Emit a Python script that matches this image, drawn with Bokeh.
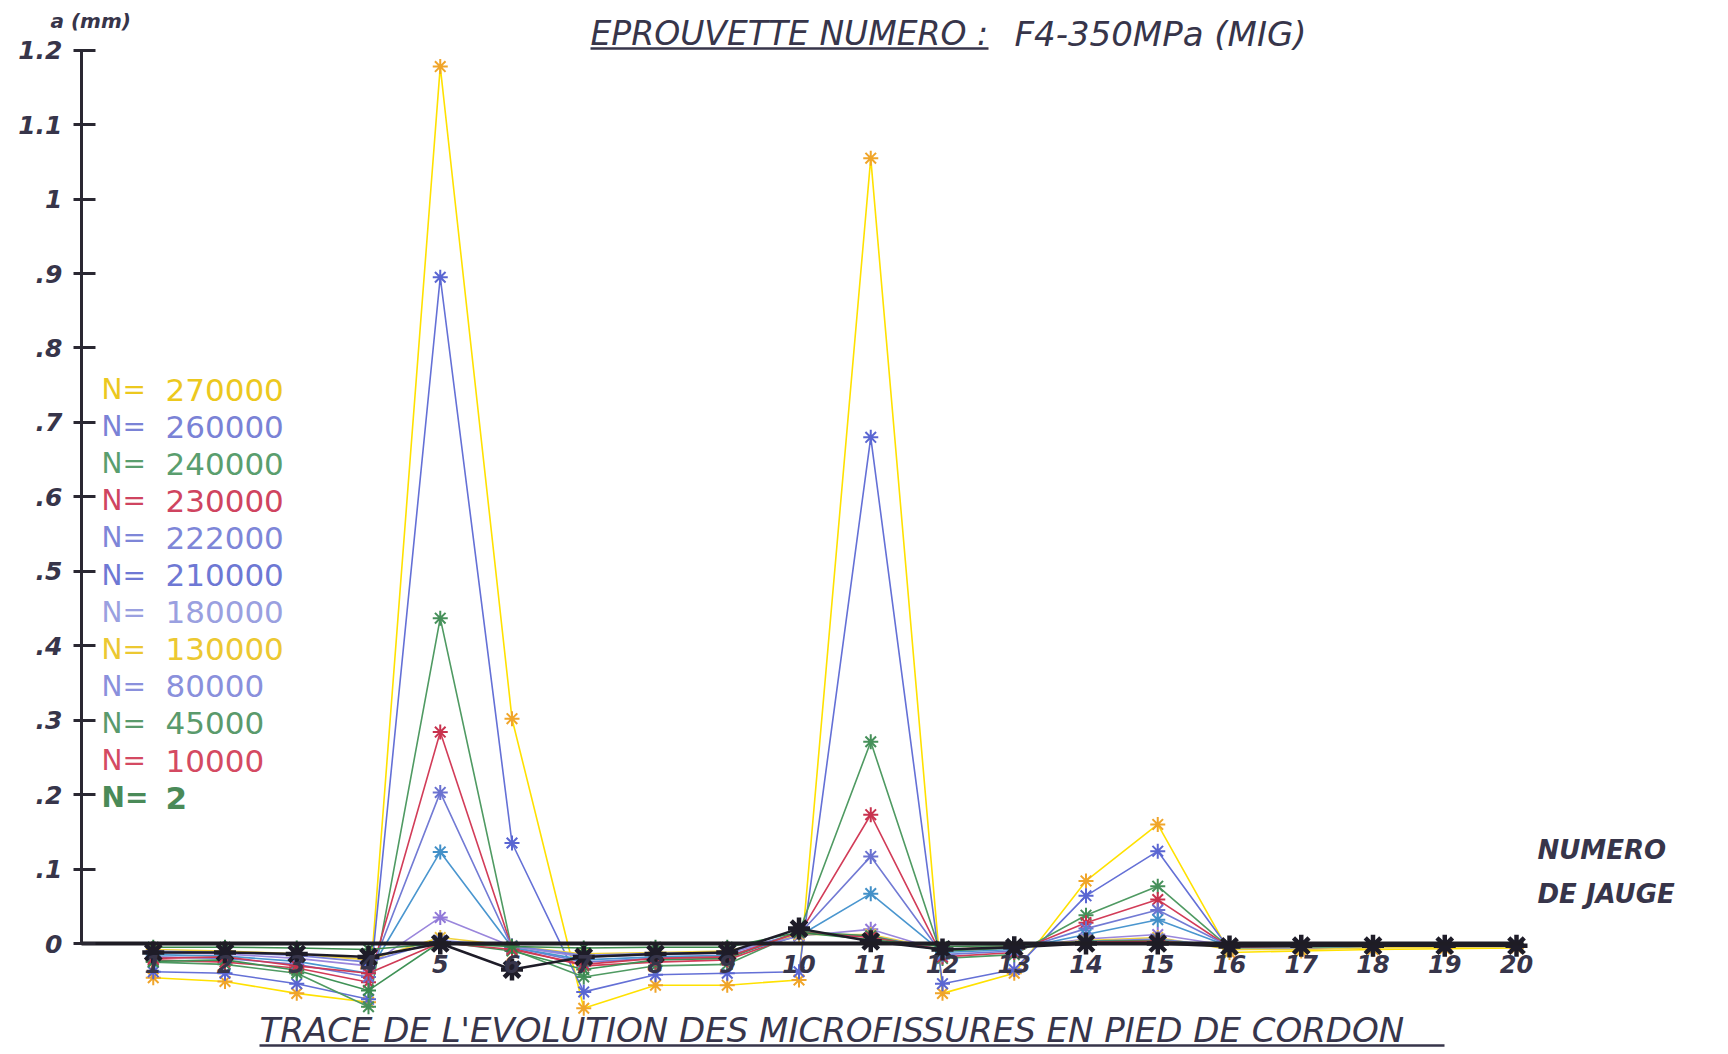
from bokeh.plotting import figure
from bokeh.models import FixedTicker, CustomJSTickFormatter
from bokeh.core.properties import value
from bokeh.embed import file_html
from bokeh.resources import INLINE

# ---------------- data ----------------
gauges = list(range(1, 21))
cycles = ["270000", "260000", "240000", "230000", "222000", "210000",
          "180000", "130000", "80000", "45000", "10000", "2"]
line_colors = ["#ffe100", "#6470d6", "#4f9a62", "#d23c58", "#727ad4", "#4a96cf",
               "#9a86dc", "#f0d23c", "#7c84dc", "#3f9256", "#cf3a55", "#3a8a4c"]
marker_colors = ["#f0a52a", "#5a66d2", "#46905a", "#c8324e", "#6a72d0", "#4390c8",
                 "#9078d8", "#eec040", "#7078d6", "#3a8a50", "#c8324e", "#347e46"]
text_colors = ["#ecc81e", "#7a82d6", "#5a9e6e", "#cf4460", "#7e86d8", "#6e78d4",
               "#9aa0e0", "#ecc832", "#8a90dc", "#5a9a6c", "#d44a62", "#4a8a58"]

a_270000 = [-0.046, -0.051, -0.067, -0.079, 1.178, 0.302, -0.087, -0.056, -0.056, -0.049,
            1.055, -0.067, -0.040, 0.084, 0.160, -0.012, -0.010, -0.008, -0.007, -0.006]
a_260000 = [-0.038, -0.040, -0.054, -0.075, 0.895, 0.135, -0.065, -0.042, -0.040, -0.038,
            0.680, -0.054, -0.035, 0.064, 0.124, -0.008, -0.007, -0.005, -0.004, -0.004]
a_240000 = [-0.025, -0.028, -0.040, -0.085, 0.437, -0.008, -0.045, -0.030, -0.028, 0.015,
            0.271, -0.020, -0.015, 0.038, 0.077, -0.006, -0.005, -0.004, -0.003, -0.003]
a_230000 = [-0.022, -0.025, -0.033, -0.052, 0.284, -0.006, -0.030, -0.025, -0.022, 0.012,
            0.173, -0.018, -0.012, 0.028, 0.059, -0.005, -0.004, -0.003, -0.003, -0.003]
a_222000 = [-0.018, -0.020, -0.028, -0.045, 0.203, -0.005, -0.025, -0.020, -0.018, 0.012,
            0.117, -0.015, -0.010, 0.020, 0.045, -0.004, -0.004, -0.003, -0.002, -0.002]
a_210000 = [-0.015, -0.017, -0.024, -0.040, 0.123, -0.005, -0.022, -0.018, -0.016, 0.010,
            0.067, -0.012, -0.008, 0.012, 0.032, -0.004, -0.003, -0.002, -0.002, -0.002]
a_180000 = [-0.012, -0.014, -0.020, -0.030, 0.035, -0.004, -0.018, -0.015, -0.013, 0.010,
            0.019, -0.010, -0.006, 0.006, 0.012, -0.003, -0.003, -0.002, -0.002, -0.002]
a_130000 = [-0.008, -0.010, -0.014, -0.022, 0.008, -0.003, -0.014, -0.012, -0.010, 0.012,
            0.012, -0.008, -0.004, 0.004, 0.008, -0.008, -0.008, -0.006, -0.005, -0.004]
a_80000 = [-0.010, -0.012, -0.016, -0.025, 0.004, -0.003, -0.016, -0.013, -0.012, 0.014,
           0.010, -0.008, -0.005, 0.003, 0.006, -0.004, -0.003, -0.003, -0.002, -0.002]
a_45000 = [-0.024, -0.022, -0.036, -0.063, 0.002, -0.010, -0.035, -0.022, -0.020, 0.016,
           0.010, -0.010, -0.006, 0.003, 0.004, -0.003, -0.003, -0.002, -0.002, -0.002]
a_10000 = [-0.020, -0.018, -0.030, -0.040, 0.001, -0.008, -0.028, -0.020, -0.018, 0.015,
           0.008, -0.008, -0.005, 0.002, 0.003, -0.003, -0.003, -0.002, -0.002, -0.002]
a_2 = [-0.005, -0.005, -0.006, -0.008, 0.000, -0.004, -0.006, -0.005, -0.005, 0.015,
       0.005, -0.004, -0.003, 0.001, 0.001, -0.002, -0.002, -0.002, -0.001, -0.001]
# dark reference trace drawn along the baseline
a_ref = [-0.012, -0.012, -0.014, -0.018, 0.000, -0.035, -0.018, -0.014, -0.012, 0.020,
         0.003, -0.008, -0.005, 0.000, 0.000, -0.004, -0.003, -0.003, -0.003, -0.003]

series = [a_270000, a_260000, a_240000, a_230000, a_222000, a_210000,
          a_180000, a_130000, a_80000, a_45000, a_10000, a_2]

y_ticks = [0.0, 0.1, 0.2, 0.3, 0.4, 0.5, 0.6, 0.7, 0.8, 0.9, 1.0, 1.1, 1.2]

title_left = "EPROUVETTE NUMERO :"
title_right = "F4-350MPa (MIG)"
bottom_title = "TRACE DE L'EVOLUTION DES MICROFISSURES EN PIED DE CORDON"
y_label = "a (mm)"
x_label_1 = "NUMERO"
x_label_2 = "DE   JAUGE"

# ---------------- layout helpers (image pixels -> data) ----------------
W, H = 1712, 1050
PX0, PXU = 81.0, 71.75   # image x of gauge 0, pixels per gauge
PY0, PYU = 943.0, 744.4  # image y of a=0, pixels per mm


def gx(px):
    return (px - PX0) / PXU


def vy(py):
    return (PY0 - py) / PYU


p = figure(width=W, height=H, output_backend="svg", toolbar_location=None,
           x_range=(gx(0), gx(W)), y_range=(vy(H), vy(0)),
           min_border=0, background_fill_color="white",
           border_fill_color="white")
p.outline_line_color = None
p.xgrid.visible = False
p.ygrid.visible = False

AX_COL = "#37354a"
FONT = value("DejaVu Sans")

# series
for vals, lc, mc in zip(series, line_colors, marker_colors):
    p.line(gauges, vals, line_color=lc, line_width=1.6)
    p.scatter(gauges, vals, marker="asterisk", size=15, line_color=mc, line_width=2)

p.line(gauges, a_ref, line_color="#1e1c28", line_width=2.5)
p.scatter(gauges, a_ref, marker="asterisk", size=22, line_color="#1e1c28", line_width=4.5)

# axes
xa = p.xaxis[0]
xa.fixed_location = 0
xa.bounds = (0, 20.1)
xa.ticker = FixedTicker(ticks=gauges)
xa.axis_line_width = 4
xa.axis_line_color = "#1e1c24"
xa.major_tick_line_color = None
xa.minor_tick_line_color = None
xa.major_label_standoff = 5
xa.major_label_text_font = "DejaVu Sans"
xa.major_label_text_font_style = "bold italic"
xa.major_label_text_font_size = "24px"
xa.major_label_text_color = AX_COL

ya = p.yaxis[0]
ya.fixed_location = 0
ya.bounds = (0, 1.2)
ya.ticker = FixedTicker(ticks=y_ticks)
ya.formatter = CustomJSTickFormatter(code="""
    if (Math.abs(tick) < 1e-9) { return "0"; }
    let s = tick.toFixed(1);
    if (s.endsWith(".0")) { s = s.slice(0, -2); }
    if (s.startsWith("0.")) { s = s.slice(1); }
    return s;
""")
ya.axis_line_width = 3
ya.axis_line_color = "#2a2832"
ya.major_tick_line_width = 3
ya.major_tick_line_color = "#2a2832"
ya.major_tick_in = 14
ya.major_tick_out = 8
ya.minor_tick_line_color = None
ya.major_label_standoff = 11
ya.major_label_text_font = "DejaVu Sans"
ya.major_label_text_font_style = "bold italic"
ya.major_label_text_font_size = "25px"
ya.major_label_text_color = AX_COL

# legend-like colored labels
for i, (name, tc) in enumerate(zip(cycles, text_colors)):
    yy = vy(389 + 37.1 * i)
    style = "bold" if name == "2" else "normal"
    p.text(x=[gx(101)], y=[yy], text=["N="], text_font=FONT, text_font_size="28px",
           text_font_style=style, text_color=tc, text_baseline="middle", text_align="left")
    p.text(x=[gx(165)], y=[yy], text=[name], text_font=FONT, text_font_size="31px",
           text_font_style=style, text_color=tc, text_baseline="middle", text_align="left")

# titles / annotations
p.text(x=[gx(50)], y=[vy(20)], text=[y_label], text_font=FONT, text_font_size="20px",
       text_font_style="bold italic", text_color=AX_COL, text_baseline="middle")
p.text(x=[gx(590)], y=[vy(33)], text=[title_left], text_font=FONT, text_font_size="33px",
       text_font_style="italic", text_color=AX_COL, text_baseline="middle")
p.text(x=[gx(1014)], y=[vy(33)], text=[title_right], text_font=FONT, text_font_size="34px",
       text_font_style="italic", text_color=AX_COL, text_baseline="middle")
p.segment(x0=[gx(590)], y0=[vy(48)], x1=[gx(988)], y1=[vy(48)],
          line_color=AX_COL, line_width=2.5)
p.text(x=[gx(259)], y=[vy(1029)], text=[bottom_title], text_font=FONT, text_font_size="34px",
       text_font_style="italic", text_color=AX_COL, text_baseline="middle")
p.segment(x0=[gx(259)], y0=[vy(1045)], x1=[gx(1444)], y1=[vy(1045)],
          line_color=AX_COL, line_width=2.5)
p.text(x=[gx(1537), gx(1537)], y=[vy(849), vy(893)], text=[x_label_1, x_label_2],
       text_font=FONT, text_font_size="26px", text_font_style="bold italic",
       text_color=AX_COL, text_baseline="middle")

open("out.html", "w").write(file_html(p, INLINE))
